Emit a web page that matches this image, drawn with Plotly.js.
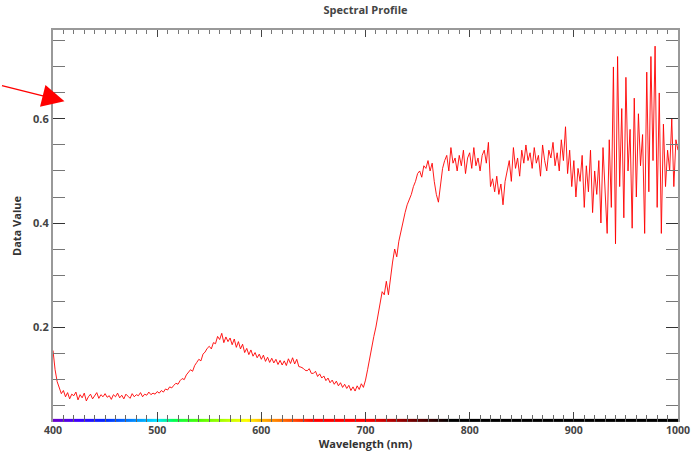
<!DOCTYPE html>
<html>
<head>
<meta charset="utf-8">
<script src="https://cdn.plot.ly/plotly-3.0.1.min.js"></script>
<style>html,body{margin:0;padding:0;background:#fff;}#chart{width:699px;height:451px;}</style>
</head>
<body>
<div id="chart"></div>
<script>
// Wavelength sampling (nm): 400 to 1000 every 2 nm
const wlStart = 400, wlStep = 2;
// Data values, 2 nm apart
const dataValue = [
  0.155, 0.118, 0.095, 0.082, 0.072, 0.078, 0.066, 0.074, 0.062, 0.071,
  0.068, 0.075, 0.060, 0.070, 0.064, 0.073, 0.058, 0.066, 0.071, 0.062,
  0.069, 0.074, 0.063, 0.070, 0.066, 0.072, 0.065, 0.068, 0.061, 0.070,
  0.066, 0.073, 0.064, 0.069, 0.062, 0.071, 0.067, 0.063, 0.072, 0.066,
  0.070, 0.068, 0.074, 0.066, 0.071, 0.069, 0.075, 0.070, 0.073, 0.071,
  0.076, 0.073, 0.078, 0.075, 0.081, 0.079, 0.085, 0.083, 0.088, 0.092,
  0.090, 0.097, 0.101, 0.099, 0.108, 0.112, 0.118, 0.115, 0.126, 0.132,
  0.138, 0.135, 0.148, 0.152, 0.159, 0.163, 0.158, 0.170, 0.168, 0.182,
  0.176, 0.188, 0.170, 0.181, 0.172, 0.179, 0.166, 0.177, 0.161, 0.172,
  0.158, 0.167, 0.151, 0.159, 0.147, 0.156, 0.144, 0.151, 0.141, 0.148,
  0.138, 0.146, 0.134, 0.142, 0.132, 0.140, 0.131, 0.138, 0.128, 0.136,
  0.127, 0.135, 0.126, 0.139, 0.130, 0.141, 0.129, 0.138, 0.124, 0.123,
  0.121, 0.117, 0.116, 0.120, 0.111, 0.111, 0.115, 0.105, 0.110, 0.102,
  0.106, 0.097, 0.102, 0.093, 0.098, 0.090, 0.096, 0.087, 0.093, 0.084,
  0.090, 0.082, 0.088, 0.078, 0.085, 0.077, 0.087, 0.080, 0.091, 0.084,
  0.098, 0.118, 0.140, 0.165, 0.182, 0.200, 0.222, 0.245, 0.268, 0.262,
  0.288, 0.262, 0.300, 0.325, 0.350, 0.335, 0.365, 0.385, 0.400, 0.420,
  0.435, 0.445, 0.455, 0.470, 0.480, 0.495, 0.500, 0.488, 0.510, 0.505,
  0.520, 0.500, 0.515, 0.480, 0.455, 0.440, 0.470, 0.505, 0.520, 0.530,
  0.500, 0.545, 0.515, 0.525, 0.500, 0.530, 0.510, 0.540, 0.495, 0.525,
  0.535, 0.505, 0.545, 0.510, 0.525, 0.500, 0.530, 0.540, 0.515, 0.555,
  0.470, 0.485, 0.460, 0.490, 0.455, 0.475, 0.435, 0.480, 0.500, 0.520,
  0.480, 0.545, 0.505, 0.525, 0.490, 0.540, 0.515, 0.550, 0.520, 0.535,
  0.505, 0.545, 0.515, 0.530, 0.490, 0.550, 0.520, 0.500, 0.540, 0.525,
  0.555, 0.510, 0.535, 0.500, 0.560, 0.520, 0.585, 0.495, 0.540, 0.470,
  0.520, 0.450, 0.505, 0.480, 0.530, 0.430, 0.510, 0.460, 0.540, 0.420,
  0.500, 0.455, 0.520, 0.400, 0.545, 0.470, 0.380, 0.560, 0.430, 0.700,
  0.360, 0.720, 0.470, 0.620, 0.410, 0.680, 0.500, 0.580, 0.390, 0.640,
  0.450, 0.610, 0.510, 0.570, 0.380, 0.690, 0.460, 0.720, 0.520, 0.740,
  0.430, 0.650, 0.380, 0.590, 0.470, 0.540, 0.500, 0.600, 0.470, 0.560,
  0.540
];
const wavelength = dataValue.map((_, i) => wlStart + i * wlStep);

// Visible-spectrum strip colours (wavelength nm -> colour)
const stripStops = [400, 425, 450, 485, 500, 515, 540, 570, 585, 605, 630, 650, 700, 780, 1000];
const stripColors = ['#6a00c8', '#3c00ff', '#0028ff', '#00a8ff', '#00e8ff', '#00ff50', '#50ff00', '#c8ff00', '#ffff00', '#ffa000', '#ff4a00', '#ff0000', '#ff0000', '#000000', '#000000'];
const colorscale = stripStops.map((w, i) => [(w - 400) / 600, stripColors[i]]);

const yRange = [0.0175, 0.771];
const stripEdges = [0.0175, 0.0235];

const font = "'Open Sans', 'DejaVu Sans', sans-serif";

const traces = [
  {
    type: 'heatmap', x: wavelength, y: stripEdges, z: [wavelength],
    xaxis: 'x', yaxis: 'y', colorscale: colorscale, zmin: 400, zmax: 1000,
    showscale: false, hoverinfo: 'skip', zsmooth: 'best'
  },
  {
    type: 'scatter', mode: 'lines', x: wavelength, y: dataValue,
    xaxis: 'x', yaxis: 'y',
    line: {color: '#ff0000', width: 0.9}, hoverinfo: 'skip'
  },
  {
    // invisible helper so the top axis is drawn
    type: 'scatter', mode: 'lines', x: [400, 1000], y: [0.3, 0.3],
    xaxis: 'x2', yaxis: 'y', line: {width: 0}, hoverinfo: 'skip', opacity: 0
  }
];

const layout = {
  width: 699, height: 451,
  margin: {l: 53, r: 21, t: 30, b: 29, pad: 0},
  paper_bgcolor: '#ffffff', plot_bgcolor: '#ffffff',
  showlegend: false,
  title: {text: '<b>Spectral Profile</b>', x: 0.5, xref: 'paper', y: 0.985, yanchor: 'top',
          font: {family: font, size: 11, color: '#444'}},
  xaxis: {
    range: [400, 1000], dtick: 100, tick0: 0,
    showgrid: false, zeroline: false,
    anchor: 'y', side: 'bottom',
    showline: false, layer: 'above traces',
    ticks: 'inside', ticklen: 10, tickcolor: '#444', tickwidth: 1,
    minor: {dtick: 10, ticks: 'inside', ticklen: 7, tickcolor: '#666', tickwidth: 1},
    tickfont: {family: font, size: 10.5, color: '#444', weight: 'bold'},
    title: {text: 'Wavelength (nm)', standoff: 0, font: {family: font, size: 11, color: '#333', weight: 'bold'}}
  },
  xaxis2: {
    range: [400, 1000], dtick: 100, tick0: 0,
    showgrid: false, zeroline: false,
    overlaying: 'x', side: 'top', anchor: 'y', showticklabels: false,
    showline: true, linecolor: '#999', linewidth: 2,
    ticks: 'inside', ticklen: 7, tickcolor: '#444', tickwidth: 1,
    minor: {dtick: 10, ticks: 'inside', ticklen: 4, tickcolor: '#777', tickwidth: 1}
  },
  yaxis: {
    range: yRange, dtick: 0.2, tick0: 0, tickformat: '.1f',
    showgrid: false, zeroline: false, layer: 'above traces',
    showline: true, linecolor: '#999', linewidth: 2, mirror: 'allticks',
    ticks: 'inside', ticklen: 12, tickcolor: '#333', tickwidth: 1,
    minor: {dtick: 0.05, ticks: 'inside', ticklen: 6, tickcolor: '#777', tickwidth: 1},
    tickfont: {family: font, size: 11, color: '#444', weight: 'bold'},
    title: {text: 'Data Value', standoff: 9, font: {family: font, size: 11, color: '#333', weight: 'bold'}}
  },
  annotations: [{
    x: 411, y: 0.634, xref: 'x', yref: 'y', text: '', showarrow: true,
    ax: -64, ay: -16, arrowcolor: '#ff0000', arrowwidth: 1.4, arrowhead: 2, arrowsize: 3.2,
    standoff: 0
  }]
};

Plotly.newPlot('chart', traces, layout, {displayModeBar: false, staticPlot: true});
</script>
</body>
</html>
